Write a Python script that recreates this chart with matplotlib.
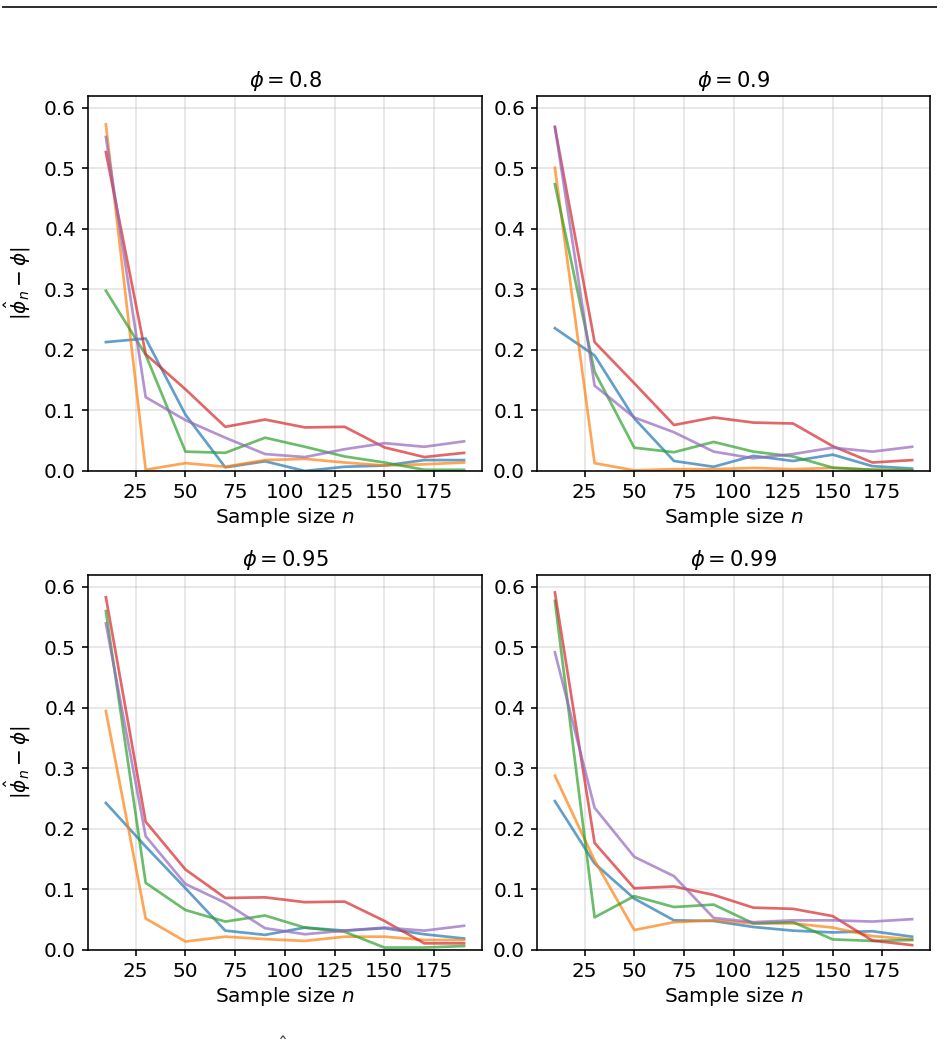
import numpy as np
import matplotlib
matplotlib.use("Agg")
import matplotlib.pyplot as plt
from matplotlib.lines import Line2D

# sample sizes
n_vals = [10, 30, 50, 70, 90, 110, 130, 150, 170, 190]
phis = [0.8, 0.9, 0.95, 0.99]

# absolute errors |phi_hat - phi|, five runs per phi
err_08 = [
    [0.213, 0.219, 0.093, 0.006, 0.016, 0.000, 0.007, 0.009, 0.018, 0.018],
    [0.573, 0.002, 0.013, 0.007, 0.018, 0.020, 0.014, 0.009, 0.011, 0.014],
    [0.298, 0.192, 0.032, 0.030, 0.055, 0.040, 0.024, 0.014, 0.002, 0.002],
    [0.527, 0.193, 0.135, 0.073, 0.085, 0.072, 0.073, 0.039, 0.023, 0.030],
    [0.552, 0.122, 0.084, 0.055, 0.028, 0.023, 0.036, 0.046, 0.040, 0.049],
]
err_09 = [
    [0.236, 0.191, 0.087, 0.0165, 0.007, 0.025, 0.0165, 0.027, 0.008, 0.004],
    [0.501, 0.013, 0.001, 0.003, 0.003, 0.005, 0.003, 0.005, 0.002, 0.001],
    [0.474, 0.164, 0.0385, 0.031, 0.048, 0.032, 0.024, 0.0055, 0.002, 0.001],
    [0.568, 0.213, 0.145, 0.076, 0.0885, 0.080, 0.0785, 0.041, 0.014, 0.018],
    [0.569, 0.141, 0.0885, 0.064, 0.032, 0.021, 0.028, 0.0385, 0.032, 0.040],
]
err_095 = [
    [0.243, 0.171, 0.102, 0.032, 0.025, 0.037, 0.032, 0.036, 0.026, 0.019],
    [0.395, 0.052, 0.014, 0.022, 0.018, 0.015, 0.022, 0.022, 0.0165, 0.0165],
    [0.560, 0.111, 0.066, 0.047, 0.057, 0.037, 0.030, 0.004, 0.004, 0.0065],
    [0.583, 0.212, 0.133, 0.086, 0.087, 0.079, 0.080, 0.048, 0.011, 0.011],
    [0.540, 0.188, 0.109, 0.078, 0.036, 0.026, 0.032, 0.037, 0.032, 0.040],
]
err_099 = [
    [0.246, 0.143, 0.085, 0.049, 0.048, 0.038, 0.032, 0.029, 0.031, 0.022],
    [0.288, 0.148, 0.033, 0.046, 0.049, 0.044, 0.044, 0.037, 0.023, 0.0175],
    [0.577, 0.054, 0.089, 0.071, 0.075, 0.044, 0.046, 0.0175, 0.015, 0.0165],
    [0.591, 0.177, 0.102, 0.105, 0.091, 0.070, 0.068, 0.056, 0.0155, 0.008],
    [0.492, 0.235, 0.154, 0.122, 0.053, 0.046, 0.049, 0.049, 0.047, 0.051],
]
all_errs = [err_08, err_09, err_095, err_099]

colors = ["#1f77b4", "#ff7f0e", "#2ca02c", "#d62728", "#9467bd"]

fig = plt.figure(figsize=(948 / 144, 1042 / 144), dpi=144)

# axes boxes [left, bottom, width, height]
boxes = [
    [0.0928, 0.548, 0.4156, 0.360],
    [0.5665, 0.548, 0.4145, 0.360],
    [0.0928, 0.0883, 0.4156, 0.360],
    [0.5665, 0.0883, 0.4145, 0.360],
]

for i in range(4):
    ax = fig.add_axes(boxes[i])
    for run, c in zip(all_errs[i], colors):
        ax.plot(n_vals, run, color=c, alpha=0.7, lw=1.35)
    ax.set_title(r"$\phi = %s$" % phis[i], fontsize=10.5, pad=4.5)
    ax.set_xlabel(r"Sample size $n$", labelpad=2)
    if i % 2 == 0:
        ax.set_ylabel(r"$|\hat{\phi}_n - \phi|$", labelpad=6)
    ax.set_ylim(0, 0.62)
    ax.set_xticks([25, 50, 75, 100, 125, 150, 175])
    ax.tick_params(length=3, pad=3)
    ax.grid(True, alpha=0.35)

# rule at the top of the page
fig.add_artist(Line2D([0.003, 0.987], [1 - 7 / 1042] * 2, transform=fig.transFigure,
                      color="#333333", lw=1.0))

# caption cut off by the bottom edge
fig.text(266 / 948, 0.0078, r"$(\hat{\phi}_n - \phi)$", va="top", ha="left",
         fontsize=10, color="#444444")

fig.savefig("out.png", dpi=144)
